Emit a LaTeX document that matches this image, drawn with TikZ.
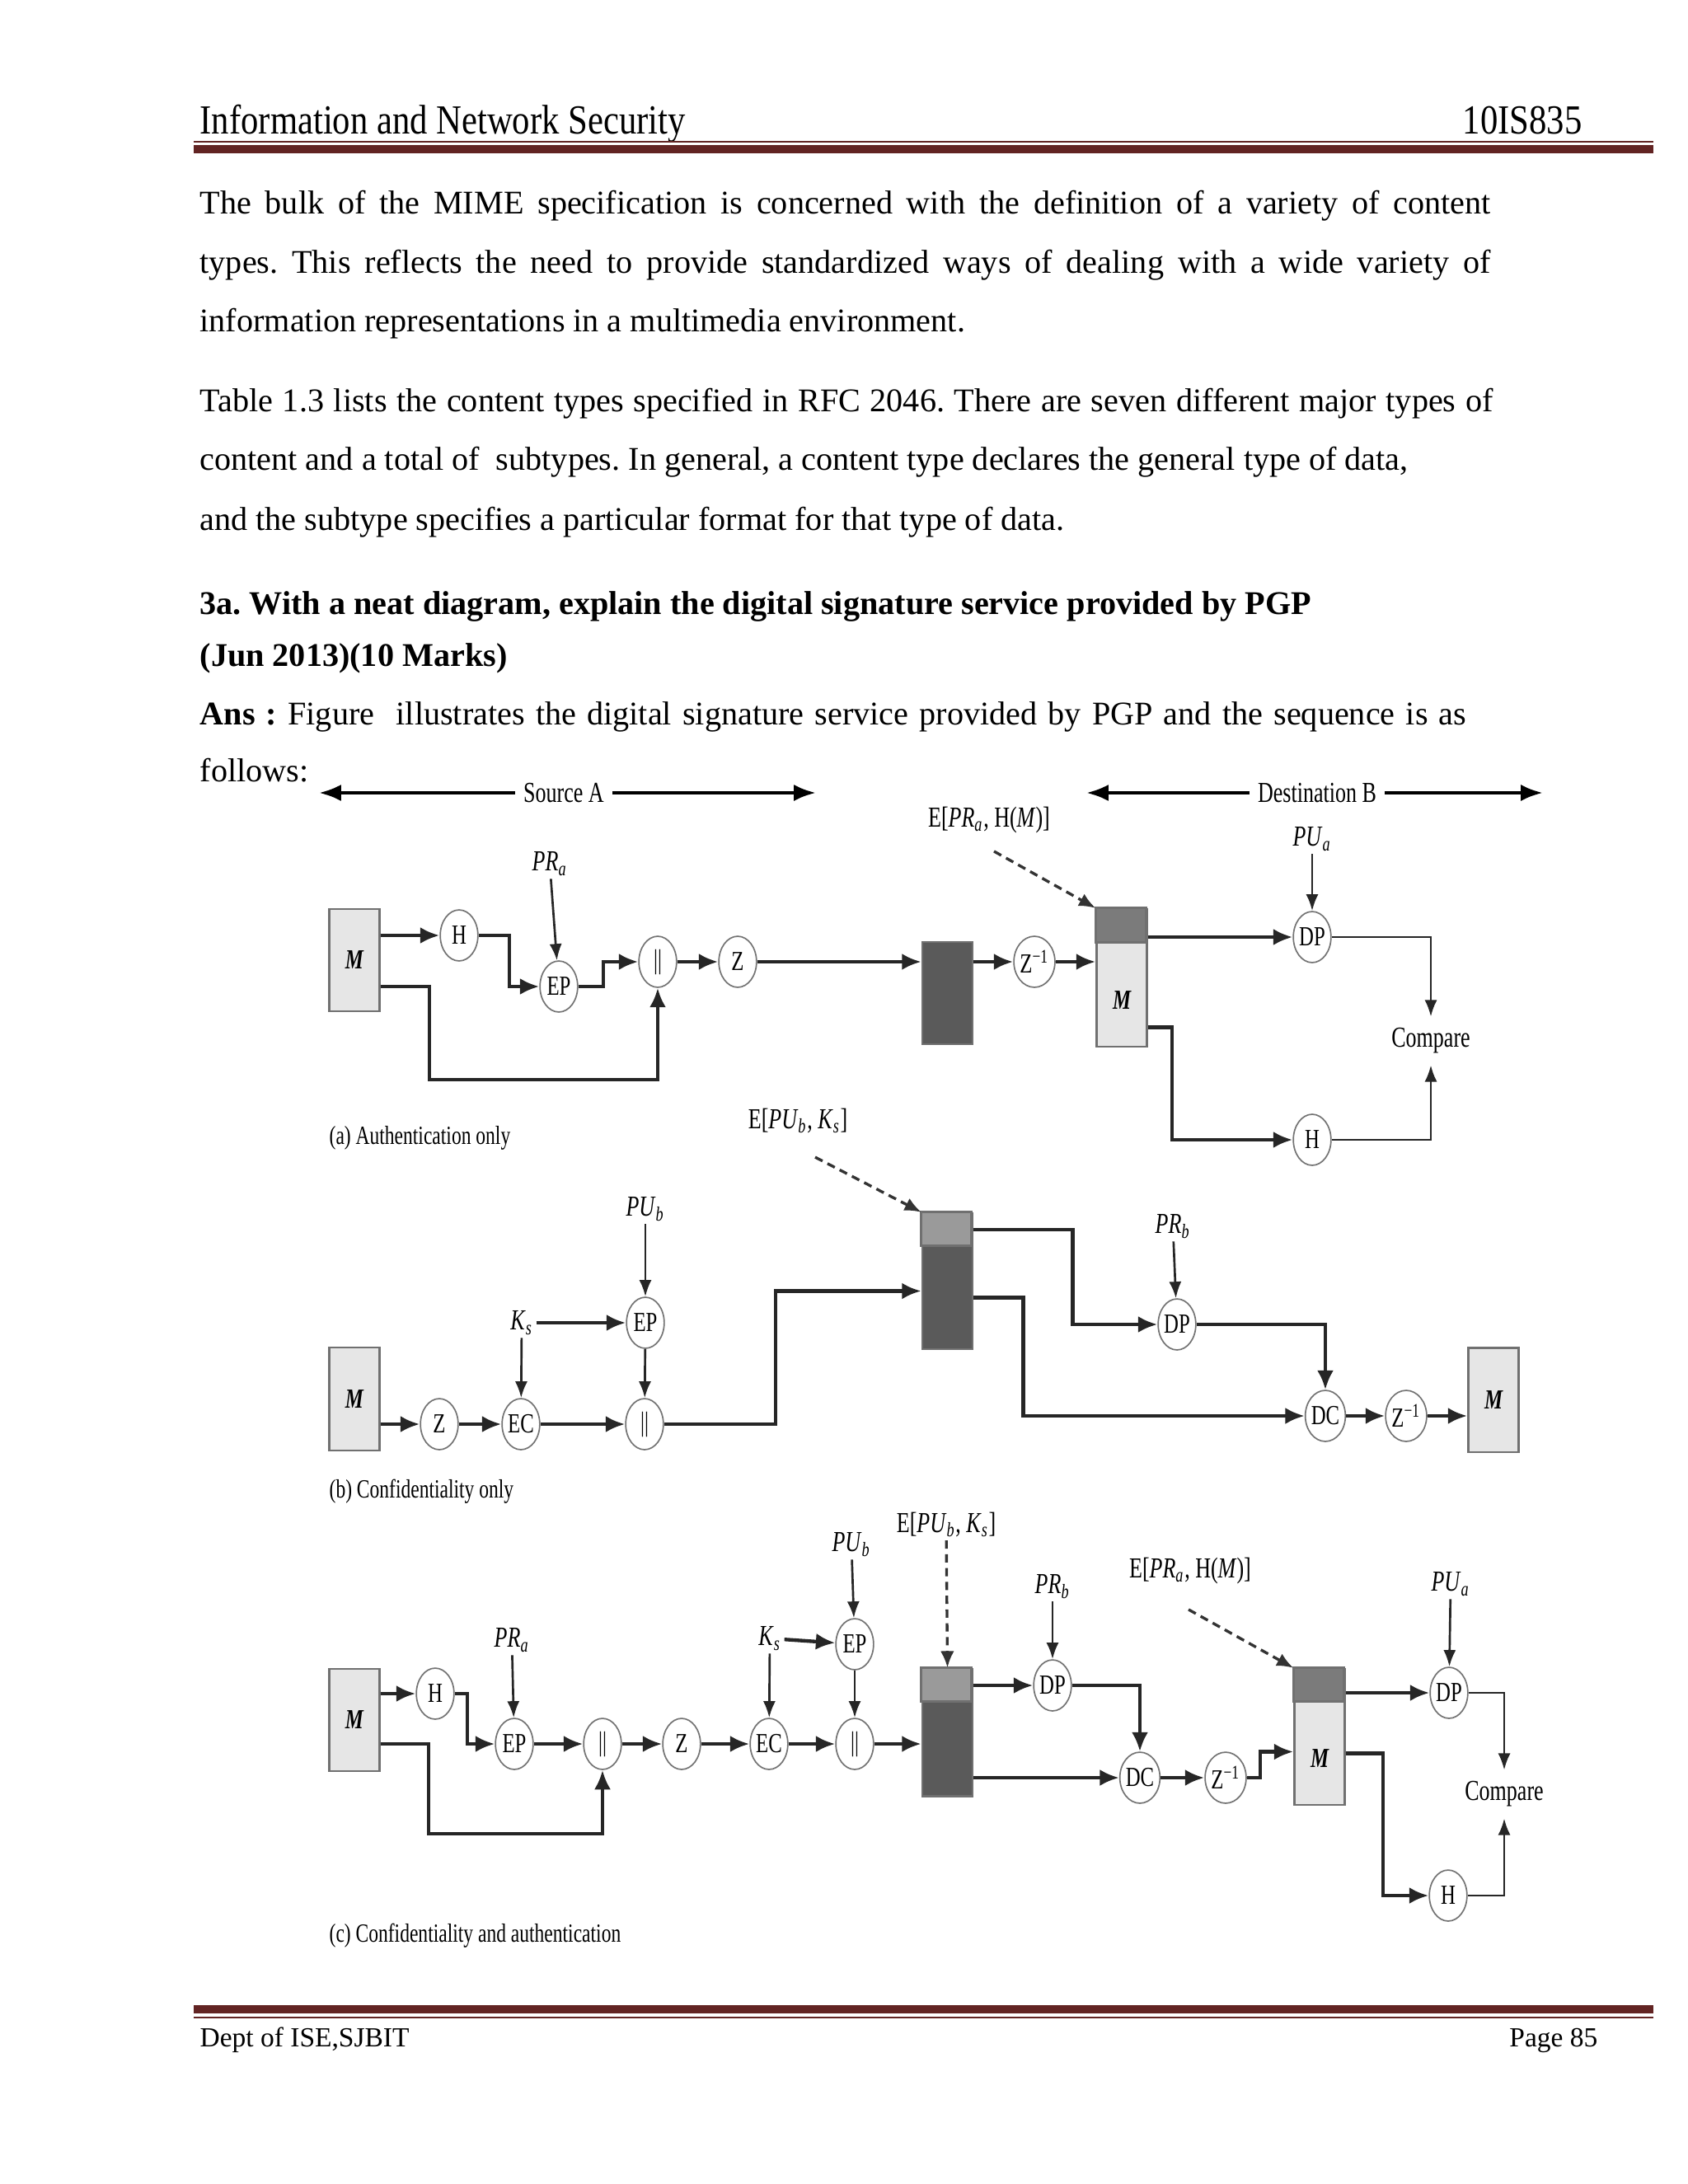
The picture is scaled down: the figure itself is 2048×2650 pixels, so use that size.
\documentclass[tikz,border=0pt]{standalone}
\usepackage{fontspec}
\setmainfont{Liberation Serif}
\newfontfamily\figfont[FakeStretch=0.74]{Liberation Serif}
\newfontfamily\headfont[FakeStretch=0.85]{Liberation Serif}
\usetikzlibrary{arrows.meta,positioning,calc,shapes.geometric}
\definecolor{maroon}{HTML}{622423}
\definecolor{boxfill}{HTML}{E6E6E6}
\definecolor{boxdark}{HTML}{5A5A5A}
\definecolor{boxmid}{HTML}{9A9A9A}
\definecolor{boxedge}{HTML}{707070}
\newcommand\kname[2]{\textit{#1}\textsubscript{\textit{#2}}}
\newcommand\zinv{Z\textsuperscript{−1}}
\frenchspacing

\begin{document}
\begin{tikzpicture}[x=0.0105cm,y=-0.0105cm,>=Latex,
  op/.style={ellipse,draw=black!55,line width=0.5pt,fill=white,minimum width=0.48cm,
    minimum height=0.65cm,inner sep=0pt,font=\figfont\fontsize{10}{11}\selectfont},
  lbl/.style={font=\figfont\fontsize{10.5}{12}\selectfont,inner sep=1pt},
  figcap/.style={font=\figfont\fontsize{9.5}{11}\selectfont,anchor=west,inner sep=0pt},
  msg/.style={draw=boxedge,fill=boxfill,line width=0.8pt,minimum width=0.64cm,inner sep=0pt,
    font=\figfont\bfseries\itshape\fontsize{10}{11}\selectfont},
  cipher/.style={msg,fill=boxdark},
  flow/.style={line width=1.3pt,draw=black!85,-{Latex[length=7pt,width=6pt]}},
  keyin/.style={line width=0.8pt,draw=black!85,-{Latex[length=6pt,width=4.5pt]}},
  sig/.style={densely dashed,line width=1pt,draw=black!80,-{Latex[length=6pt,width=5pt]}},
  span/.style={line width=1.3pt,{Latex[length=8pt,width=6pt]}-{Latex[length=8pt,width=6pt]}},
  body/.style={anchor=base west,inner sep=0pt,font=\fontsize{12}{14}\selectfont}]
\useasboundingbox (0,0) rectangle (2048,2650);
\fill[white] (0,0) rectangle (2048,2650);

% page header and footer
\node[anchor=base west,inner sep=0pt,font=\headfont\fontsize{15}{17}\selectfont] (head) at (242,163) {Information and Network Security};
\node[anchor=base east,inner sep=0pt,font=\headfont\fontsize{15}{17}\selectfont] (code) at (1920,163) {10IS835};
\draw[maroon,line width=0.6pt] (235,172) -- (2006,172);
\draw[maroon,line width=3pt] (235,181) -- (2006,181);
\draw[maroon,line width=3pt] (235,2438) -- (2006,2438);
\draw[maroon,line width=0.6pt] (235,2448) -- (2006,2448);
\node[anchor=base west,inner sep=0pt,font=\fontsize{10}{12}\selectfont] (dept) at (242,2483) {Dept of ISE,SJBIT};
\node[anchor=base east,inner sep=0pt,font=\fontsize{10}{12}\selectfont] (page) at (1939,2483) {Page 85};

% body text
\node[body] (t1) at (242,260) {\makebox[16.44cm][s]{The bulk of the MIME specification is concerned with the definition of a variety of content}};
\node[body] (t2) at (242,332) {\makebox[16.44cm][s]{types. This reflects the need to provide standardized ways of dealing with a wide variety of}};
\node[body] (t3) at (242,403) {information representations in a multimedia environment.};
\node[body] (t4) at (242,500) {\makebox[16.47cm][s]{Table 1.3 lists the content types specified in RFC 2046. There are seven different major types of}};
\node[body] (t5) at (242,571) {content and a total of\ \ subtypes. In general, a content type declares the general type of data,};
\node[body] (t6) at (242,643) {and the subtype specifies a particular format for that type of data.};
\node[body,font=\bfseries\fontsize{12}{14}\selectfont] (q1) at (242,745) {3a. With a neat diagram, explain the digital signature service provided by PGP};
\node[body,font=\bfseries\fontsize{12}{14}\selectfont] (q2) at (242,808) {(Jun 2013)(10 Marks)};
\node[body] (t7) at (242,879) {\makebox[16.13cm][s]{\textbf{Ans :} Figure\ \ illustrates the digital signature service provided by PGP and the sequence is as}};
\node[body] (t8) at (242,948) {follows:};

% source / destination spans
\coordinate (srcL) at (387,962); \coordinate (srcR) at (990,962);
\coordinate (dstL) at (1318,962); \coordinate (dstR) at (1872,962);
\draw[span] (srcL) -- (srcR);
\draw[span] (dstL) -- (dstR);
\node[lbl,fill=white,inner sep=3pt] (srcA) at (684,962) {Source A};
\node[lbl,fill=white,inner sep=3pt] (dstB) at (1598,962) {Destination B};

% (a) authentication only
\node[msg,minimum height=1.30cm] (aM) at (430,1165) {M};
\foreach \n/\x/\y/\t in {aH/557/1135/H, aEP/678/1197/EP, aCat/798/1167/||, aZ/895/1167/Z,
  aZi/1255/1167/\zinv, aDP/1592/1137/DP, aH2/1592/1383/H}
  \node[op] (\n) at (\x,\y) {\t};
\node[cipher,minimum height=1.30cm] (aBox) at (1149.5,1205) {};
\node[msg,minimum height=1.75cm] (aMB) at (1361,1186.5) {};
\draw[boxedge,fill=boxmid!80!black,line width=0.8pt] (aMB.north west) rectangle ++(61,42);
\node[msg,draw=none,fill=none] (aMt) at (1361,1214) {M};
\node[lbl] (aPR) at (667,1048) {\kname{PR}{a}};
\node[lbl] (aPU) at (1592,1018) {\kname{PU}{a}};
\node[lbl] (aE) at (1200,995) {E[\kname{PR}{a}, H(\textit{M})]};
\node[lbl,inner sep=4pt] (aCmp) at (1736,1263) {Compare};
\node[figcap] (aCap) at (399,1381) {(a) Authentication only};

\draw[flow] (aM.east |- aH) -- (aH);
\draw[flow] (aH.east) -- ++(37,0) |- (aEP);
\draw[keyin] (aPR) -- (aEP);
\draw[flow] (aEP.east) -- ++(30,0) |- (aCat);
\draw[flow] (aM.east |- aEP) -| ++(59,113) -| (aCat.south);
\draw[flow] (aCat) -- (aZ);
\draw[flow] (aZ) -- (aBox.west |- aZ);
\draw[flow] (aBox.east |- aZi) -- (aZi);
\draw[flow] (aZi) -- (aMB.west |- aZi);
\draw[sig] (aE.south) ++(6,18) -- (aMB.north west);
\draw[keyin] (aPU) -- (aDP);
\draw[flow] (aMB.east |- aDP) -- (aDP);
\draw[keyin] (aDP) -| (aCmp.north);
\draw[flow] ($(aMB.east)+(0,60)$) -- ++(29,0) |- (aH2);
\draw[keyin] (aH2) -| (aCmp.south);

% (b) confidentiality only
\node[msg,minimum height=1.31cm] (bM) at (430,1697.5) {M};
\foreach \n/\x/\y/\t in {bZ/533/1728/Z, bEC/632/1728/EC, bCat/782/1728/||, bEP/783/1605/EP,
  bDP/1428/1607/DP, bDC/1608/1718/DC, bZi/1706/1718/\zinv}
  \node[op] (\n) at (\x,\y) {\t};
\node[cipher,minimum height=1.73cm] (bBox) at (1149.5,1554.5) {};
\draw[boxedge,fill=boxmid,line width=0.8pt] (bBox.north west) rectangle ++(61,41);
\node[msg,minimum height=1.33cm] (bM2) at (1812,1698.5) {M};
\node[lbl] (bE) at (968,1360) {E[\kname{PU}{b}, \kname{K}{s}]};
\node[lbl] (bPU) at (783,1467) {\kname{PU}{b}};
\node[lbl] (bKs) at (633,1605) {\kname{K}{s}};
\node[lbl] (bPR) at (1423,1488) {\kname{PR}{b}};
\node[figcap] (bCap) at (399,1810) {(b) Confidentiality only};

\draw[flow] (bM.east |- bZ) -- (bZ);
\draw[flow] (bZ) -- (bEC);
\draw[flow] (bEC) -- (bCat);
\draw[keyin] (bPU) -- (bEP);
\draw[flow] (bKs) -- (bEP);
\draw[keyin] (bKs) -- (bEC);
\draw[keyin] (bEP) -- (bCat);
\coordinate (bIn) at ($(bBox.west)+(0,12)$);
\draw[flow] (bCat) -- ++(159,0) |- (bIn);
\draw[sig] (bE.south) ++(21,25) -- (bBox.north west);
\coordinate (bTop) at ($(bBox.north east)+(0,21)$);
\draw[flow] (bTop) -- ++(120,0) |- (bDP);
\draw[keyin] (bPR) -- (bDP);
\coordinate (bLow) at ($(bBox.east)+(0,20)$);
\draw[flow] (bLow) -- ++(60,0) |- (bDC);
\draw[flow] (bDP) -| (bDC);
\draw[flow] (bDC) -- (bZi);
\draw[flow] (bZi) -- (bM2.west |- bZi);

% (c) confidentiality and authentication
\node[msg,minimum height=1.30cm] (cM) at (430,2087) {M};
\foreach \n/\x/\y/\t in {cH/528/2055/H, cEP/624/2116/EP, cCat/731/2116/||, cZ/827/2116/Z,
  cEC/933/2116/EC, cEP2/1037/1995/EP, cCat2/1037/2116/||, cDP/1277/2045/DP,
  cDC/1383/2157/DC, cZi/1487/2157/\zinv, cDP2/1758/2054/DP, cH2/1757/2300/H}
  \node[op] (\n) at (\x,\y) {\t};
\node[cipher,minimum height=1.62cm] (cBox) at (1149.5,2102) {};
\draw[boxedge,fill=boxmid,line width=0.8pt] (cBox.north west) rectangle ++(61,41);
\node[msg,minimum height=1.73cm] (cMB) at (1601,2107.5) {};
\draw[boxedge,fill=boxmid!80!black,line width=0.8pt] (cMB.north west) rectangle ++(61,41);
\node[msg,draw=none,fill=none] (cMt) at (1601,2134) {M};
\node[lbl] (cPR) at (621,1990) {\kname{PR}{a}};
\node[lbl] (cKs) at (934,1988) {\kname{K}{s}};
\node[lbl] (cPU) at (1033,1874) {\kname{PU}{b}};
\node[lbl] (cE1) at (1148,1850) {E[\kname{PU}{b}, \kname{K}{s}]};
\node[lbl] (cPRb) at (1277,1925) {\kname{PR}{b}};
\node[lbl] (cE2) at (1444,1906) {E[\kname{PR}{a}, H(\textit{M})]};
\node[lbl] (cPUa) at (1760,1922) {\kname{PU}{a}};
\node[lbl,inner sep=4pt] (cCmp) at (1825,2177) {Compare};
\node[figcap] (cCap) at (399,2349) {(c) Confidentiality and authentication};

\draw[flow] (cM.east |- cH) -- (cH);
\draw[flow] (cH.east) -- ++(15,0) |- (cEP);
\draw[keyin] (cPR) -- (cEP);
\draw[flow] (cM.east |- cEP) -| ++(58,109) -| (cCat.south);
\draw[flow] (cEP) -- (cCat);
\draw[flow] (cCat) -- (cZ);
\draw[flow] (cZ) -- (cEC);
\draw[flow] (cEC) -- (cCat2);
\draw[flow] (cCat2) -- (cBox.west |- cCat2);
\draw[keyin] (cKs) -- (cEC);
\draw[flow] (cKs) -- (cEP2);
\draw[keyin] (cPU) -- (cEP2);
\draw[keyin] (cEP2) -- (cCat2);
\draw[sig] (cE1) -- (cBox.north);
\draw[flow] (cBox.east |- cDP) -- (cDP);
\draw[keyin] (cPRb) -- (cDP);
\draw[flow] (cDP) -| (cDC);
\draw[flow] (cBox.east |- cDC) -- (cDC);
\draw[flow] (cDC) -- (cZi);
\coordinate (cIn) at ($(cMB.west)+(0,18)$);
\draw[flow] (cZi.east) -- ++(16,0) |- (cIn);
\draw[sig] (cE2.south) ++(-2,27) -- (cMB.north west);
\draw[keyin] (cPUa) -- (cDP2);
\draw[flow] (cMB.east |- cDP2) -- (cDP2);
\draw[keyin] (cDP2) -| (cCmp.north);
\draw[flow] ($(cMB.east)+(0,20)$) -- ++(45,0) |- (cH2);
\draw[keyin] (cH2) -| (cCmp.south);
\end{tikzpicture}
\end{document}
